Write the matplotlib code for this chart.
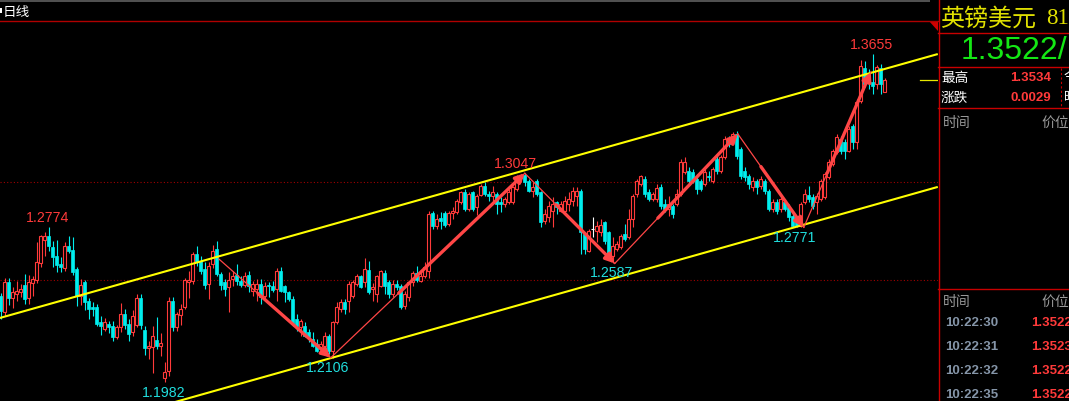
import matplotlib
matplotlib.use('Agg')
import matplotlib.pyplot as plt
from matplotlib.patches import Polygon
import numpy as np

# ---------------- data ----------------
opens = [
1.2421, 1.2339, 1.2492, 1.2411, 1.2431, 1.2441, 1.2477, 1.2411, 1.2487, 1.2503,
1.2589, 1.2707, 1.2727, 1.2671, 1.2625, 1.2584, 1.2564, 1.2676, 1.2656, 1.2559,
1.2421, 1.2492, 1.2395, 1.2365, 1.2365, 1.2288, 1.2252, 1.2278, 1.2268, 1.2212,
1.2263, 1.2329, 1.2278, 1.2237, 1.2273, 1.2411, 1.2247, 1.2156, 1.2161, 1.2196,
1.2166, 1.2002, 1.2038, 1.2395, 1.2263, 1.2324, 1.2365, 1.2492, 1.2497, 1.2635,
1.2599, 1.2559, 1.2482, 1.2584, 1.2661, 1.2533, 1.2492, 1.2467, 1.2508, 1.2528,
1.2497, 1.2477, 1.2528, 1.2447, 1.2457, 1.2482, 1.2421, 1.2477, 1.2472, 1.2457,
1.2549, 1.2472, 1.2441, 1.2406, 1.2303, 1.2263, 1.2268, 1.2237, 1.2201, 1.2176,
1.2161, 1.2166, 1.2217, 1.2140, 1.2288, 1.2354, 1.2390, 1.2395, 1.2421, 1.2482,
1.2523, 1.2492, 1.2554, 1.2457, 1.2431, 1.2472, 1.2538, 1.2492, 1.2431, 1.2482,
1.2472, 1.2370, 1.2416, 1.2492, 1.2538, 1.2497, 1.2523, 1.2549, 1.2844, 1.2778,
1.2819, 1.2844, 1.2788, 1.2844, 1.2849, 1.2901, 1.2952, 1.2865, 1.2952, 1.2875,
1.2936, 1.2982, 1.2941, 1.2931, 1.2941, 1.2901, 1.2890, 1.2901, 1.2901, 1.2967,
1.3023, 1.3038, 1.3008, 1.2957, 1.3008, 1.2952, 1.2803, 1.2824, 1.2854, 1.2901,
1.2854, 1.2854, 1.2890, 1.2906, 1.2931, 1.2957, 1.2737, 1.2651, 1.2763, 1.2753,
1.2748, 1.2798, 1.2748, 1.2625, 1.2661, 1.2671, 1.2737, 1.2722, 1.2814, 1.2941,
1.2992, 1.3018, 1.2952, 1.2916, 1.2916, 1.2977, 1.2890, 1.2865, 1.2880, 1.2890,
1.2941, 1.3053, 1.3059, 1.3053, 1.3018, 1.3008, 1.2992, 1.3033, 1.3008, 1.3120,
1.3059, 1.3130, 1.3222, 1.3212, 1.3248, 1.3171, 1.3059, 1.3033, 1.2977, 1.3008,
1.2982, 1.3008, 1.2957, 1.2865, 1.2901, 1.2865, 1.2901, 1.2875, 1.2829, 1.2803,
1.2778, 1.2901, 1.2936, 1.2926, 1.2901, 1.2916, 1.2926, 1.3028, 1.3094, 1.3156,
1.3222, 1.3207, 1.3161, 1.3288, 1.3207, 1.3416, 1.3584, 1.3543, 1.3513, 1.3503,
1.3584, 1.3462]

highs = [
1.2436, 1.2513, 1.2513, 1.2467, 1.2497, 1.2482, 1.2533, 1.2528, 1.2523, 1.2697,
1.2732, 1.2748, 1.2774, 1.2702, 1.2707, 1.2620, 1.2697, 1.2727, 1.2722, 1.2569,
1.2508, 1.2503, 1.2411, 1.2390, 1.2380, 1.2319, 1.2309, 1.2293, 1.2293, 1.2273,
1.2385, 1.2354, 1.2303, 1.2349, 1.2431, 1.2431, 1.2268, 1.2191, 1.2268, 1.2313,
1.2232, 1.2084, 1.2416, 1.2416, 1.2339, 1.2380, 1.2513, 1.2549, 1.2646, 1.2676,
1.2625, 1.2594, 1.2594, 1.2681, 1.2702, 1.2543, 1.2508, 1.2543, 1.2549, 1.2584,
1.2523, 1.2543, 1.2549, 1.2497, 1.2508, 1.2508, 1.2492, 1.2492, 1.2497, 1.2564,
1.2569, 1.2477, 1.2447, 1.2421, 1.2329, 1.2303, 1.2288, 1.2252, 1.2237, 1.2201,
1.2191, 1.2237, 1.2227, 1.2293, 1.2390, 1.2406, 1.2406, 1.2497, 1.2503, 1.2533,
1.2528, 1.2615, 1.2599, 1.2487, 1.2528, 1.2554, 1.2554, 1.2503, 1.2503, 1.2503,
1.2482, 1.2447, 1.2497, 1.2549, 1.2574, 1.2549, 1.2594, 1.2854, 1.2854, 1.2839,
1.2849, 1.2854, 1.2854, 1.2875, 1.2916, 1.2957, 1.2967, 1.2952, 1.2957, 1.2941,
1.2992, 1.3003, 1.2957, 1.2982, 1.2952, 1.2926, 1.2926, 1.2967, 1.2982, 1.3038,
1.3043, 1.3047, 1.3018, 1.3003, 1.3018, 1.2957, 1.2865, 1.2906, 1.2926, 1.2906,
1.2906, 1.2931, 1.2952, 1.2977, 1.2977, 1.2967, 1.2748, 1.2763, 1.2824, 1.2803,
1.2814, 1.2803, 1.2753, 1.2722, 1.2702, 1.2737, 1.2788, 1.2865, 1.2941, 1.3018,
1.3038, 1.3033, 1.2967, 1.2952, 1.2992, 1.2992, 1.2916, 1.2931, 1.2890, 1.2967,
1.3120, 1.3130, 1.3079, 1.3069, 1.3043, 1.3018, 1.3069, 1.3059, 1.3079, 1.3135,
1.3140, 1.3237, 1.3237, 1.3258, 1.3263, 1.3181, 1.3079, 1.3043, 1.3028, 1.3018,
1.3033, 1.3018, 1.2967, 1.2916, 1.2916, 1.2926, 1.2916, 1.2890, 1.2849, 1.2814,
1.2901, 1.2967, 1.2982, 1.2941, 1.2946, 1.3018, 1.3053, 1.3120, 1.3171, 1.3248,
1.3237, 1.3222, 1.3288, 1.3299, 1.3426, 1.3625, 1.3620, 1.3579, 1.3655, 1.3600,
1.3605, 1.3534]

lows = [
1.2303, 1.2319, 1.2375, 1.2360, 1.2395, 1.2416, 1.2380, 1.2380, 1.2421, 1.2487,
1.2569, 1.2625, 1.2651, 1.2569, 1.2543, 1.2543, 1.2549, 1.2641, 1.2528, 1.2370,
1.2375, 1.2349, 1.2303, 1.2319, 1.2268, 1.2222, 1.2242, 1.2232, 1.2191, 1.2201,
1.2237, 1.2252, 1.2191, 1.2217, 1.2263, 1.2252, 1.2120, 1.2099, 1.2028, 1.2151,
1.2115, 1.1982, 1.2013, 1.2242, 1.2242, 1.2273, 1.2354, 1.2411, 1.2482, 1.2574,
1.2533, 1.2457, 1.2406, 1.2564, 1.2523, 1.2452, 1.2421, 1.2339, 1.2472, 1.2477,
1.2467, 1.2467, 1.2441, 1.2421, 1.2395, 1.2380, 1.2395, 1.2416, 1.2441, 1.2395,
1.2441, 1.2390, 1.2395, 1.2268, 1.2242, 1.2217, 1.2212, 1.2186, 1.2161, 1.2135,
1.2151, 1.2135, 1.2125, 1.2106, 1.2278, 1.2339, 1.2329, 1.2339, 1.2411, 1.2472,
1.2462, 1.2467, 1.2431, 1.2395, 1.2390, 1.2467, 1.2431, 1.2411, 1.2416, 1.2452,
1.2354, 1.2354, 1.2395, 1.2472, 1.2492, 1.2492, 1.2513, 1.2513, 1.2763, 1.2763,
1.2763, 1.2773, 1.2778, 1.2814, 1.2839, 1.2890, 1.2854, 1.2854, 1.2854, 1.2834,
1.2931, 1.2931, 1.2906, 1.2901, 1.2839, 1.2849, 1.2875, 1.2890, 1.2890, 1.2957,
1.3003, 1.2982, 1.2952, 1.2926, 1.2931, 1.2773, 1.2788, 1.2798, 1.2773, 1.2839,
1.2849, 1.2849, 1.2854, 1.2880, 1.2880, 1.2635, 1.2635, 1.2646, 1.2722, 1.2697,
1.2727, 1.2686, 1.2620, 1.2587, 1.2651, 1.2661, 1.2702, 1.2712, 1.2773, 1.2926,
1.2982, 1.2926, 1.2906, 1.2906, 1.2901, 1.2865, 1.2849, 1.2829, 1.2819, 1.2880,
1.2931, 1.3043, 1.2992, 1.2997, 1.2941, 1.2957, 1.2982, 1.3008, 1.2997, 1.3043,
1.3048, 1.3120, 1.3181, 1.3197, 1.3120, 1.3018, 1.3008, 1.2967, 1.2957, 1.2941,
1.2967, 1.2941, 1.2854, 1.2849, 1.2839, 1.2849, 1.2854, 1.2803, 1.2775, 1.2773,
1.2771, 1.2890, 1.2901, 1.2865, 1.2839, 1.2906, 1.2916, 1.3018, 1.3084, 1.3146,
1.3146, 1.3120, 1.3156, 1.3171, 1.3171, 1.3406, 1.3487, 1.3477, 1.3451, 1.3477,
1.3451, 1.3462]

closes = [
1.2344, 1.2492, 1.2411, 1.2441, 1.2447, 1.2457, 1.2406, 1.2492, 1.2508, 1.2594,
1.2727, 1.2727, 1.2676, 1.2620, 1.2579, 1.2569, 1.2676, 1.2651, 1.2543, 1.2421,
1.2477, 1.2390, 1.2354, 1.2354, 1.2278, 1.2268, 1.2288, 1.2263, 1.2212, 1.2263,
1.2329, 1.2273, 1.2227, 1.2319, 1.2411, 1.2273, 1.2156, 1.2166, 1.2217, 1.2166,
1.2181, 1.2033, 1.2395, 1.2263, 1.2329, 1.2354, 1.2503, 1.2503, 1.2635, 1.2594,
1.2549, 1.2477, 1.2574, 1.2651, 1.2533, 1.2477, 1.2457, 1.2503, 1.2523, 1.2497,
1.2477, 1.2523, 1.2472, 1.2482, 1.2482, 1.2416, 1.2472, 1.2472, 1.2452, 1.2549,
1.2447, 1.2441, 1.2406, 1.2278, 1.2268, 1.2293, 1.2217, 1.2212, 1.2166, 1.2140,
1.2176, 1.2217, 1.2140, 1.2288, 1.2365, 1.2390, 1.2354, 1.2482, 1.2492, 1.2523,
1.2467, 1.2559, 1.2441, 1.2467, 1.2523, 1.2549, 1.2472, 1.2431, 1.2482, 1.2467,
1.2365, 1.2431, 1.2492, 1.2538, 1.2503, 1.2523, 1.2569, 1.2839, 1.2778, 1.2814,
1.2803, 1.2783, 1.2844, 1.2854, 1.2906, 1.2952, 1.2865, 1.2941, 1.2865, 1.2931,
1.2982, 1.2941, 1.2931, 1.2952, 1.2890, 1.2890, 1.2916, 1.2952, 1.2977, 1.3028,
1.3038, 1.3003, 1.2957, 1.2977, 1.2941, 1.2798, 1.2839, 1.2880, 1.2890, 1.2875,
1.2890, 1.2906, 1.2916, 1.2957, 1.2957, 1.2748, 1.2661, 1.2753, 1.2763, 1.2778,
1.2783, 1.2702, 1.2625, 1.2676, 1.2686, 1.2727, 1.2712, 1.2814, 1.2931, 1.3008,
1.3033, 1.2941, 1.2916, 1.2941, 1.2972, 1.2880, 1.2865, 1.2890, 1.2839, 1.2941,
1.3105, 1.3105, 1.3008, 1.3008, 1.2967, 1.2967, 1.3053, 1.3028, 1.3069, 1.3059,
1.3130, 1.3222, 1.3197, 1.3248, 1.3135, 1.3033, 1.3028, 1.2992, 1.3008, 1.2977,
1.3018, 1.2957, 1.2865, 1.2901, 1.2854, 1.2916, 1.2865, 1.2824, 1.2778, 1.2778,
1.2890, 1.2941, 1.2916, 1.2880, 1.2931, 1.3008, 1.3043, 1.3105, 1.3161, 1.3232,
1.3161, 1.3161, 1.3273, 1.3207, 1.3411, 1.3594, 1.3503, 1.3513, 1.3492, 1.3589,
1.3503, 1.3522]

grid_levels = [1.25, 1.30]
channel_upper_x = [0, 234]
channel_upper_p = [1.2310, 1.3654]
channel_lower_x = [0, 234]
channel_lower_p = [1.1629, 1.2976]
zigzag_x = [54.5, 82.5, 131.0, 153.5, 184.25, 200.75, 217.5]
zigzag_p = [1.2610, 1.2106, 1.3047, 1.2587, 1.3248, 1.2771, 1.3564]
swing_text = ["1.2774", "1.1982", "1.2106", "1.3047", "1.2587", "1.2771", "1.3655"]
swing_idx = [12, 41, 83, 131, 153, 200, 218]
swing_kind = ["high", "low", "low", "high", "low", "low", "high"]
last_price = 1.3522

symbol = "英镑美元"
symbol_code = "81"
quote_text = "1.3522/"
info_labels = ["最高", "涨跌"]
info_values = ["1.3534", "0.0029"]
tick_times = ["10:22:30", "10:22:31", "10:22:32", "10:22:35"]
tick_prices = ["1.3522", "1.3523", "1.3522", "1.3522"]

# ---------------- figure ----------------
W, H = 1069, 402
fig = plt.figure(figsize=(W / 100, H / 100), dpi=100, facecolor='black')

main_w = 938
ax = fig.add_axes([0, 0, main_w / W, (H - 22) / H])
ax.set_facecolor('black')
ax.set_xlim(-0.2, 234.3)
ax.set_ylim(1.1885, 1.3824)
ax.axis('off')

RED = '#ff3a3a'
CYAN = '#00eeee'
x = np.arange(len(opens))
o = np.array(opens); c = np.array(closes); h = np.array(highs); l = np.array(lows)
up = c > o
dn = c < o
eq = c == o

for lvl in grid_levels:
    ax.axhline(lvl, color='#a00000', lw=0.8, ls=(0, (1, 2)), zorder=1)

# wicks
ax.vlines(x[up], l[up], h[up], color=RED, lw=0.8, zorder=2)
ax.vlines(x[dn], l[dn], h[dn], color=CYAN, lw=0.8, zorder=2)
ax.vlines(x[eq], l[eq], h[eq], color='white', lw=0.8, zorder=2)
# bodies
bw = 0.72
ax.bar(x[up], (c - o)[up], bottom=o[up], width=bw, facecolor='black',
       edgecolor=RED, linewidth=0.8, zorder=3)
ax.bar(x[dn], (o - c)[dn], bottom=c[dn], width=bw, facecolor=CYAN,
       edgecolor=CYAN, linewidth=0.5, zorder=3)
ax.hlines(c[eq], x[eq] - bw / 2, x[eq] + bw / 2, color='white', lw=0.8, zorder=3)

# channel
ax.plot(channel_upper_x, channel_upper_p, color='#ffff00', lw=1.5, zorder=4)
ax.plot(channel_lower_x, channel_lower_p, color='#ffff00', lw=1.5, zorder=4)
ax.plot([229.8, 234.3], [last_price, last_price], color='#e8e800', lw=0.9, zorder=4)

# zigzag arrows
ACOL = '#ff4646'
for k in range(len(zigzag_x) - 1):
    s = (zigzag_x[k], zigzag_p[k]); e = (zigzag_x[k + 1], zigzag_p[k + 1])
    ax.plot([s[0], e[0]], [s[1], e[1]], color=ACOL, lw=0.9, zorder=5)
    m = (s[0] + 0.35 * (e[0] - s[0]), s[1] + 0.35 * (e[1] - s[1]))
    ax.annotate('', xy=e, xytext=m,
                arrowprops=dict(arrowstyle='-|>', color=ACOL, lw=2.4,
                                mutation_scale=13, shrinkA=0, shrinkB=0),
                zorder=5)

# swing labels
offs = {"1.2774": (-1, 10), "1.1982": (-1, -10), "1.2106": (-5, -9),
        "1.3047": (-9, 10), "1.2587": (-1, -9), "1.2771": (-6, -10),
        "1.3655": (-1, 10)}
for t, i, kind in zip(swing_text, swing_idx, swing_kind):
    col = RED if kind == 'high' else '#20dede'
    ax.annotate(t, xy=(i, float(t)), xytext=offs[t], textcoords='offset pixels',
                ha='center', va='center', color=col, fontsize=10.2,
                family='Liberation Sans', zorder=6)

# ---------------- overlay (frame & side panel) ----------------
ov = fig.add_axes([0, 0, 1, 1], zorder=10)
ov.set_xlim(0, W); ov.set_ylim(H, 0)
ov.patch.set_alpha(0)
ov.axis('off')

PR = '#c80000'
ov.add_patch(plt.Rectangle((0, 0), 930, 2.5, color='#505050', lw=0))
ov.plot([0, main_w], [21.5, 21.5], color='#b00000', lw=1.0)
ov.plot([main_w + 0.5, main_w + 0.5], [0, H], color=PR, lw=1.0)
for yy in [33.5, 67.5, 108.5, 289.5]:
    ov.plot([main_w, W], [yy, yy], color=PR, lw=1.0)
ov.plot([1060.5, 1060.5], [69, 107], color=PR, lw=0.8, ls=(0, (2, 2)))
ov.add_patch(Polygon([(929, 22), (938, 22), (938, 32)], closed=True, color='#d00000', lw=0))
ov.add_patch(plt.Rectangle((0, 9), 1.6, 5, color='white', lw=0))

CJK = ['Noto Sans CJK SC', 'DejaVu Sans']
ov.text(3, 12, "日线", color='white', fontsize=9.8, family=CJK, va='center', ha='left')

ov.text(940, 18.5, symbol, color='#e0e000', fontsize=17.3, family=CJK, va='center', ha='left')
ov.text(1046, 19, symbol_code, color='#e0e000', fontsize=16.5, family='Liberation Serif',
        va='center', ha='left')
ov.text(961, 51, quote_text, color='#14e614', fontsize=23, family='Liberation Sans',
        va='center', ha='left')

for j, (lab, val) in enumerate(zip(info_labels, info_values)):
    yy = 78 + 20 * j
    ov.text(941, yy, lab, color='white', fontsize=9.8, family=CJK, va='center', ha='left')
    ov.text(1051, yy, val, color=RED, fontsize=9.5, family='Liberation Sans',
            weight='bold', va='center', ha='right')
ov.text(1064, 78, "今", color='white', fontsize=9.5, family=CJK, va='center', ha='left')
ov.text(1064, 98, "昨", color='white', fontsize=9.5, family=CJK, va='center', ha='left')

GRAY = '#9a9a9a'
for yy in [123, 302]:
    ov.text(943, yy, "时间", color=GRAY, fontsize=10, family=CJK, va='center', ha='left')
    ov.text(1041, yy, "价位", color=GRAY, fontsize=10, family=CJK, va='center', ha='left')

for j, (tt, pp) in enumerate(zip(tick_times, tick_prices)):
    yy = 323.5 + 24 * j
    ov.text(945, yy, tt, color='#8595a8', fontsize=9.5, family='Liberation Sans',
            weight='bold', va='center', ha='left')
    ov.text(1031, yy, pp, color=RED, fontsize=9.5, family='Liberation Sans',
            weight='bold', va='center', ha='left')

fig.savefig('out.png', dpi=100, facecolor='black')
